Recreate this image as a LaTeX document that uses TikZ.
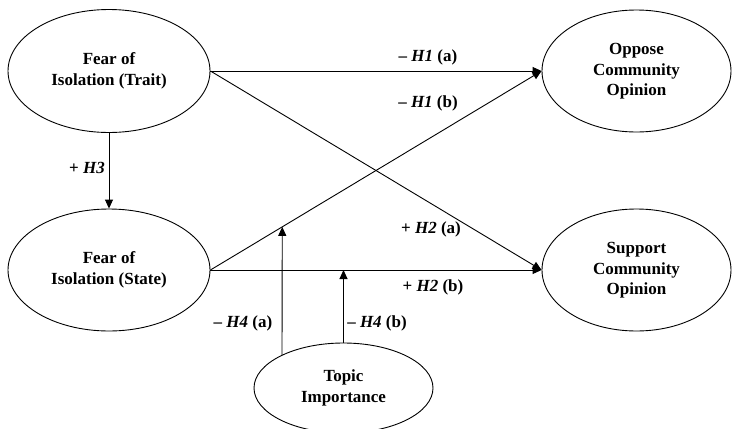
\documentclass[tikz,border=0pt]{standalone}
\usepackage{fontspec}
\setmainfont{Liberation Serif}
\usetikzlibrary{shapes.geometric,arrows.meta,calc}
\newcommand{\stacktext}[1]{\raisebox{-3pt}{\begin{tabular}{@{}c@{}}#1\end{tabular}}}
\begin{document}
\begin{tikzpicture}[x=1pt,y=-1pt,
  latent/.style={draw,ellipse,line width=0.9pt,inner sep=0pt,
    font=\fontsize{17}{20.5}\selectfont\bfseries,align=center},
  path/.style={line width=0.9pt,-{Triangle[length=9pt,width=8pt]}},
  lab/.style={font=\fontsize{17}{20}\selectfont\bfseries,inner sep=0pt}]
\useasboundingbox (0,0) rectangle (732,429);
\begin{scope}
\clip (0,0) rectangle (732,429);
\node[latent,minimum width=202pt,minimum height=123pt] (trait) at (109,71) {\stacktext{Fear of\\Isolation (Trait)}};
\node[latent,minimum width=202pt,minimum height=122pt] (state) at (109,270) {\stacktext{Fear of\\Isolation (State)}};
\node[latent,minimum width=189pt,minimum height=122pt] (oppose) at (636.5,71) {\stacktext{Oppose\\Community\\Opinion}};
\node[latent,minimum width=189pt,minimum height=122pt] (support) at (636.5,270) {\stacktext{Support\\Community\\Opinion}};
\node[latent,minimum width=179pt,minimum height=90pt] (topic) at (343.5,388) {\stacktext{Topic\\Importance}};
\end{scope}
\draw[path] (trait.east) -- (oppose.west);
\draw[path] (trait.east) -- (support.west);
\draw[path] (state.east) -- (oppose.west);
\draw[path] (state.east) -- (support.west);
\draw[path] (trait.south) -- (state.north);
\coordinate (m1) at ($(state.east)!0.2169!(oppose.west)$);
\coordinate (t1) at (282,355.3);
\draw[path] (t1) -- (m1);
\coordinate (m2) at (topic.north |- state.east);
\draw[path] (topic.north) -- (m2);
\node[lab] (h1a) at (428,57) {– \textit{H1} (a)};
\node[lab] (h1b) at (428,103) {– \textit{H1} (b)};
\node[lab] (h2a) at (431,229) {+ \textit{H2} (a)};
\node[lab] (h2b) at (433,287) {+ \textit{H2} (b)};
\node[lab] (h3) at (87,168) {+ \textit{H3}};
\node[lab] (h4a) at (243,323) {– \textit{H4} (a)};
\node[lab] (h4b) at (377,323) {– \textit{H4} (b)};
\end{tikzpicture}
\end{document}
